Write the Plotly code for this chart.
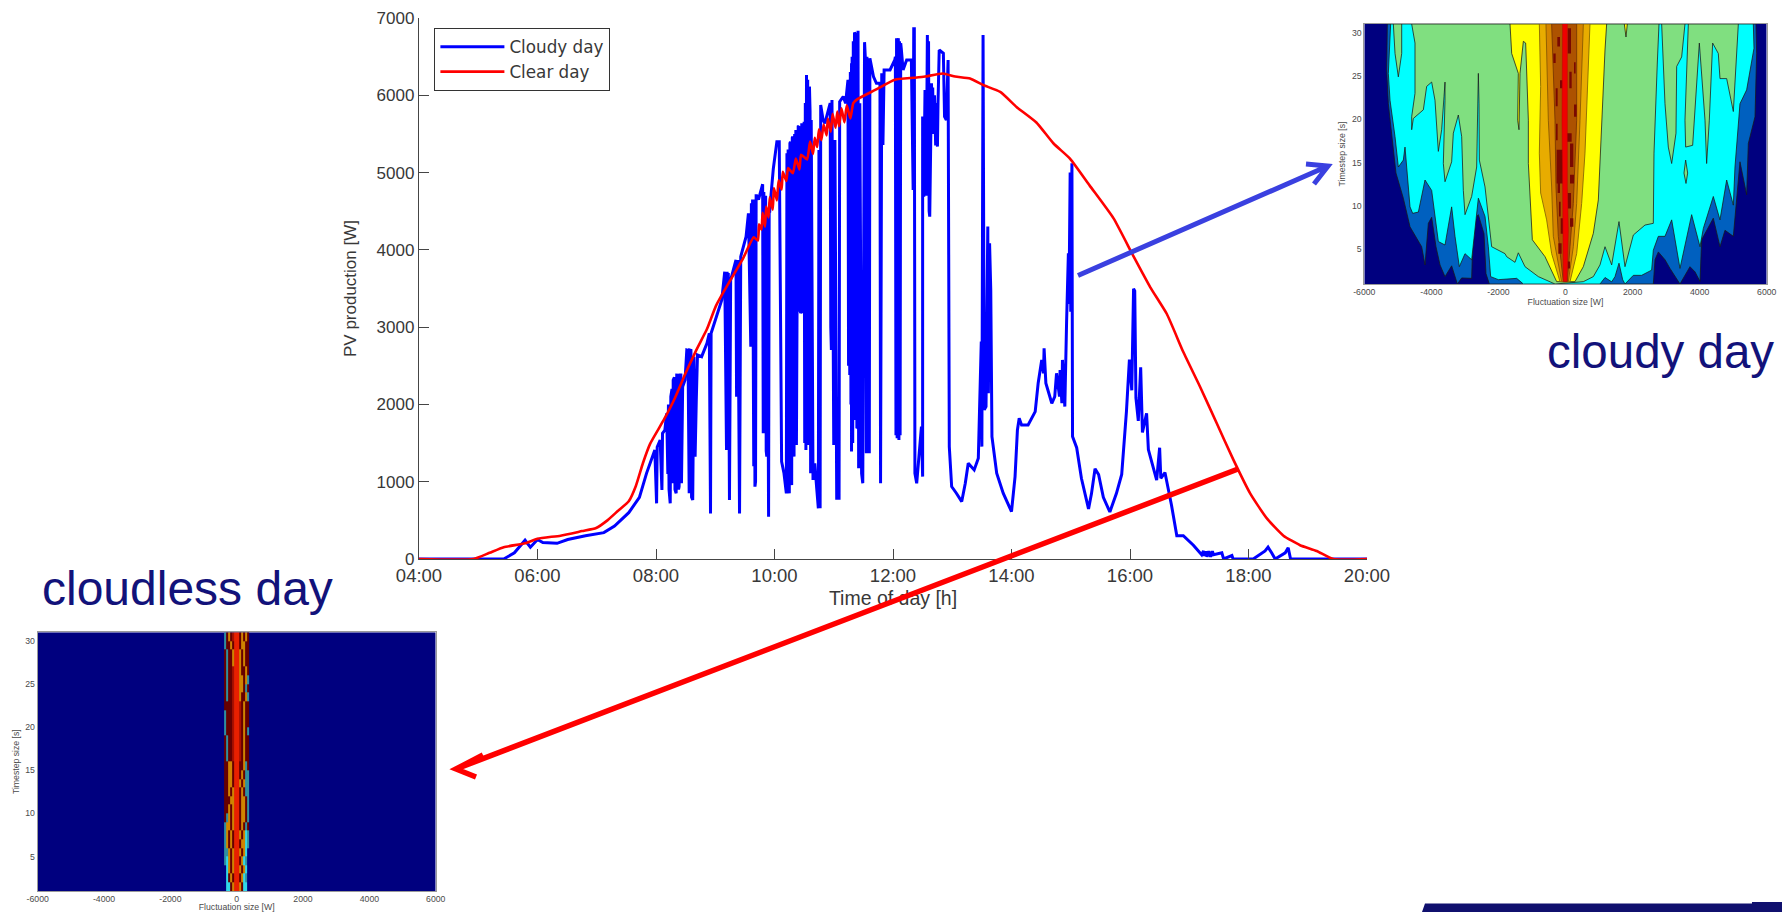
import plotly.graph_objects as go

W, H = 1782, 912
TEXT = "Liberation Sans"
NAVY_TEXT = "#12127a"

# ---- main chart -------------------------------------------------------------
hour_ticks = [4, 6, 8, 10, 12, 14, 16, 18, 20]
hour_labels = ["04:00", "06:00", "08:00", "10:00", "12:00", "14:00", "16:00", "18:00", "20:00"]
power_ticks = [0, 1000, 2000, 3000, 4000, 5000, 6000, 7000]

clear_hours = [4, 4.92, 5.19, 5.43, 5.79, 6.0, 6.39, 6.75, 6.99, 7.18, 7.36, 7.54, 7.66, 7.78, 7.9, 8.14, 8.32, 8.5, 8.68,
               8.86, 9.01, 9.17, 9.47, 9.65, 9.72, 9.74, 9.78, 9.8, 9.84, 9.86, 9.9, 9.92, 9.97, 9.99, 10.04, 10.07, 10.12,
               10.14, 10.2, 10.23, 10.31, 10.36, 10.42, 10.45, 10.55, 10.6, 10.65, 10.68, 10.72, 10.75, 10.79, 10.83, 10.88,
               10.9, 10.95, 10.98, 11.03, 11.06, 11.09, 11.13, 11.18, 11.22, 11.28, 11.33, 11.4, 11.7, 12.03, 12.36, 12.54,
               12.84, 13.05, 13.3, 13.52, 13.81, 14.09, 14.42, 14.71, 14.99, 15.32, 15.72, 16.06, 16.34, 16.62, 16.9, 17.18,
               17.46, 17.74, 18.03, 18.31, 18.59, 18.87, 19.15, 19.43, 20]
clear_watts = [0, 0, 80, 153, 203, 262, 302, 361, 401, 500, 624, 747, 945, 1242, 1490, 1812, 2084, 2406, 2703,
               2975, 3272, 3495, 3891, 4163, 4120, 4330, 4260, 4480, 4300, 4560, 4420, 4680, 4520, 4800, 4640, 4900, 4780,
               5010, 4890, 5060, 4990, 5180, 5040, 5230, 5170, 5400, 5240, 5450, 5330, 5560, 5420, 5620, 5480,
               5700, 5530, 5760, 5580, 5790, 5600, 5830, 5650, 5870, 5700, 5900, 5950, 6069, 6202, 6227, 6242,
               6282, 6242, 6217, 6133, 6044, 5846, 5648, 5376, 5178, 4831, 4410, 3915, 3519, 3173, 2678, 2232,
               1762, 1292, 846, 525, 302, 178, 104, 0, 0]

cloudy_hours = [4, 5.43, 5.61, 5.79, 5.88, 6.0, 6.09, 6.33, 6.51, 6.81, 7.12, 7.3, 7.54, 7.72, 7.84, 7.98, 8.01, 8.02, 8.07,
                8.10, 8.11, 8.15, 8.18, 8.24, 8.25, 8.29, 8.29, 8.34, 8.35, 8.39, 8.42, 8.43, 8.45, 8.49, 8.52, 8.56, 8.57,
                8.62, 8.64, 8.66, 8.68, 8.70, 8.77, 8.86, 8.9, 8.92, 8.93, 9.02, 9.11, 9.16, 9.19, 9.2, 9.24, 9.26, 9.35,
                9.36, 9.38, 9.41, 9.43, 9.52, 9.56, 9.6, 9.61, 9.67, 9.7, 9.73, 9.8, 9.81, 9.84, 9.87, 9.9, 9.92, 9.94, 9.98,
                10.04, 10.08, 10.12, 10.16, 10.2, 10.21, 10.25, 10.26, 10.29, 10.31, 10.33, 10.36, 10.37, 10.38, 10.40, 10.44,
                10.46, 10.47, 10.5, 10.5, 10.53, 10.54, 10.57, 10.59, 10.61, 10.62, 10.65, 10.68, 10.71, 10.74, 10.75, 10.77,
                10.78, 10.82, 10.85, 10.93, 10.96, 10.97, 11.0, 11.02, 11.05, 11.09, 11.09, 11.1, 11.16, 11.2, 11.24, 11.27,
                11.3, 11.3, 11.35, 11.37, 11.38, 11.39, 11.41, 11.42, 11.44, 11.47, 11.49, 11.52, 11.54, 11.55, 11.56, 11.6,
                11.61, 11.67, 11.72, 11.78, 11.79, 11.81, 11.83, 11.85, 11.95, 12.03, 12.06, 12.07, 12.09, 12.1, 12.13, 12.17,
                12.23, 12.31, 12.34, 12.36, 12.37, 12.4, 12.48, 12.5, 12.5, 12.52, 12.54, 12.58, 12.62, 12.65, 12.71, 12.75,
                12.78, 12.85, 12.87, 12.9, 12.93, 12.95, 12.99, 13.07, 13.16, 13.22, 13.27, 13.37, 13.44, 13.49, 13.5, 13.52,
                13.54, 13.57, 13.6, 13.61, 13.63, 13.65, 13.67, 13.75, 13.86, 14.0, 14.06, 14.1, 14.13, 14.17, 14.28, 14.4,
                14.45, 14.51, 14.54, 14.55, 14.58, 14.68, 14.73, 14.76, 14.81, 14.82, 14.85, 14.86, 14.9, 14.93, 14.96, 14.98,
                15.02, 15.03, 15.1, 15.18, 15.3, 15.35, 15.41, 15.47, 15.55, 15.66, 15.77, 15.86, 15.94, 15.99, 16.03, 16.06,
                16.08, 16.1, 16.14, 16.18, 16.21, 16.28, 16.31, 16.45, 16.5, 16.52, 16.59, 16.7, 16.79, 16.9, 17.07, 17.21,
                17.24, 17.41, 17.55, 17.58, 17.72, 17.74, 18.08, 18.28, 18.33, 18.39, 18.45, 18.62, 18.67, 18.71, 20]
cloudy_watts = [0, 0, 80, 243, 153, 252, 213, 203, 252, 302, 341, 426, 599, 797, 1108, 1410, 720, 1450, 1540,
                893, 1626, 1669, 1885, 720, 2100, 979, 2316, 850, 2381, 936, 2400, 979, 2230, 2316, 2704, 850, 2704,
                763, 2618, 1324, 2057, 2640, 2618, 2790, 2920, 590, 2920, 3135, 3351, 3718, 1410, 3718, 763, 3610, 3869,
                2100, 3869, 590, 3912, 4170, 4472, 2747, 4602, 936, 4700, 4650, 4850, 1626, 4700, 1324, 548, 4500, 4700, 5050,
                5400, 5400, 1260, 1109, 850, 5250, 850, 5379, 958, 5465, 1325, 5551, 1476, 3158, 5595, 3179,
                5638, 3179, 5659, 1713, 1411, 6263, 1497, 6112, 1109, 5681, 1023, 1238, 936, 656, 5293, 656,
                5875, 5681, 5638, 5897, 2705, 5940, 1476, 5422, 786, 786, 5206, 5918, 5983, 5897, 6198, 2382,
                6414, 1390, 6811, 1907, 6780, 1691, 6836, 1174, 5897, 1109, 980, 6687, 6371, 1368, 6500, 1368,
                6479, 6242, 6155, 6155, 980, 6285, 5357, 6328, 6328, 6457, 6737, 1562, 6737, 1540, 6673, 6328,
                6457, 6457, 4775, 6860, 1109, 980, 1713, 1066, 5724, 4689, 6069, 6780, 4430, 6155, 5379, 5336,
                6587, 6543, 5724, 5681, 6457, 1454, 937, 851, 743, 980, 1239, 1153, 1303, 2813, 1454, 6781,
                1929, 1972, 4301, 2145, 4085, 3481, 1584, 1109, 851, 613, 1066, 1670, 1821, 1735, 1735, 1907,
                2274, 2576, 2403, 2727, 2274, 2015, 2101, 2403, 2101, 2446, 2015, 2576, 1972, 3072, 3956, 4862,
                5120, 1584, 1440, 1044, 648, 846, 1168, 1094, 797, 609, 846, 1094, 1911, 2579, 2183, 3495,
                3470, 2084, 1787, 2480, 1638, 1886, 1416, 1020, 1440, 1044, 1119, 698, 302, 302, 178, 54,
                104, 54, 79, 0, 45, 0, 0, 104, 153, 80, 0, 80, 144, 0, 0]
# further swings of the cloudy-day trace in the parts where it is a solid block of blue
cloudy_extra_hours = [8.20, 8.21, 8.22, 8.27, 8.28, 8.31, 8.32, 8.37, 8.38, 8.41, 8.41, 8.54, 8.55, 8.59, 8.6, 9.21, 9.22,
                      9.23, 9.62, 9.63, 9.65, 9.66, 9.68, 9.69, 9.82, 9.83, 9.85, 9.86, 9.88, 9.89, 9.91, 10.22, 10.23,
                      10.24, 10.27, 10.28, 10.3, 10.32, 10.34, 10.35, 10.39, 10.41, 10.42, 10.43, 10.45, 10.51, 10.52,
                      10.55, 10.56, 10.58, 10.6, 10.94, 10.95, 11.25, 11.26, 11.28, 11.29, 11.31, 11.32, 11.33, 11.34,
                      11.36, 11.4, 12.04, 12.05, 12.08, 12.11, 12.12, 12.14, 12.33, 12.35, 12.55, 12.56, 12.59, 12.6,
                      12.61, 12.66, 12.67, 12.68, 12.7, 12.72, 12.73, 12.74, 12.76, 14.97, 14.99, 15.0, 15.01, 17.25,
                      17.28, 17.3, 17.33, 17.36, 17.39]
cloudy_extra_watts = [1100, 2000, 900, 2200, 1000, 2350, 900, 2380, 900, 2400, 1000, 2700, 900, 2700, 800, 1500, 3700,
                      900, 3000, 4650, 1200, 4650, 1000, 4700, 4750, 1700, 4700, 1400, 4500, 1000, 4500, 2000, 5300,
                      1000, 5400, 1000, 5450, 1400, 5500, 1500, 3500, 5600, 3200, 5600, 3200, 1500, 5900,
                      1500, 6200, 1500, 5800, 5900, 3000, 2500, 6200, 6300, 2000, 6500, 1500, 6700, 1800,
                      6800, 1700, 6500, 1600, 6700, 6700, 1600, 6600, 4800, 6860, 5800, 4700, 5000, 6700,
                      4500, 5600, 6100, 5500, 6000, 5350, 5900, 5400, 5900, 3300, 5000, 3200, 5100, 40,
                      100, 30, 100, 30, 100]

# ---- cloudy-day contour (fluctuation size W, timestep s) ---------------------
fluct_ticks = [-6000, -4000, -2000, 0, 2000, 4000, 6000]
fluct_labels = ["-6000", "-4000", "-2000", "0", "2000", "4000", "6000"]
step_ticks = [5, 10, 15, 20, 25, 30]

blue_left = [(-5313, 31), (-5333, 25.7), (-5283, 21.8), (-5184, 18.4), (-5055, 13.8), (-4836, 10.9), (-4637, 7.6),
             (-4289, 5.3), (-4190, 3.2), (-4090, 8.0), (-3991, 8.7), (-3862, 5.3), (-3742, 3.2), (-3593, 1.85),
             (-3395, 3.1), (-3225, 1), (-3096, 1.7), (-2798, 1.65), (-2748, 8.4), (-2599, 9.0), (-2430, 6.8),
             (-2371, 2.2), (-2271, 1)]
blue_right = [(2619, 1), (2669, 3.8), (2768, 4.7), (2967, 3.8), (3116, 2.8), (3315, 1.5), (3414, 1), (3712, 3.0),
              (3862, 2.4), (4011, 1.3), (4060, 6.1), (4408, 8.6), (4607, 5.3), (4756, 7.2), (5005, 6.5), (5203, 15.1),
              (5402, 11.3), (5452, 17.2), (5651, 20.3), (5700, 27.6), (5680, 31)]
cyan_left = [(-5214, 31), (-5283, 25.3), (-5233, 22.2), (-5084, 18), (-4985, 14.5), (-4836, 15.3), (-4786, 16.8),
             (-4637, 9.9), (-4557, 9.15), (-4388, 9.3), (-4190, 13), (-3991, 11.8), (-3792, 5.9), (-3593, 5.5),
             (-3395, 9.9), (-3295, 6.5), (-3166, 3), (-2997, 4.5), (-2798, 3.8), (-2599, 10.9), (-2400, 8.8),
             (-2301, 5.3), (-2232, 1.85), (-2003, 1.5), (-1456, 1.65), (-1257, 1)]
cyan_right = [(1029, 1), (1178, 1.75), (1377, 1.25), (1476, 1.85), (1595, 3.4), (1705, 1.5), (1774, 1), (2023, 2.0),
              (2271, 2.0), (2569, 2.6), (2619, 4.9), (2768, 6.5), (2967, 6.5), (3166, 8.4), (3414, 2.8), (3762, 9),
              (4011, 5.3), (4110, 7.4), (4408, 11.1), (4607, 8.4), (4806, 13), (5005, 10.1), (5054, 14.5), (5203, 21.8),
              (5402, 23.4), (5621, 28.2), (5601, 31)]
green_left = [(-4587, 31), (-4488, 28.8), (-4488, 23), (-4587, 20.3), (-4587, 18.8), (-4538, 20.1), (-4239, 21.1),
              (-4140, 23.8), (-3991, 24.3), (-3892, 22.2), (-3792, 16.3), (-3693, 18.8), (-3623, 22.6), (-3593, 24.3),
              (-3593, 22.2), (-3643, 14.9), (-3593, 12.8), (-3395, 15.1), (-3345, 18.4), (-3196, 20.5), (-3096, 18),
              (-3047, 11.8), (-2997, 9), (-2798, 11.1), (-2649, 14.5), (-2609, 21.8), (-2599, 25.3), (-2579, 21.8),
              (-2569, 15.3), (-2400, 12.2), (-2202, 5.3), (-1804, 4.5), (-1754, 4.15), (-1506, 3.5), (-1407, 4.6),
              (-1208, 3), (-810, 1.85), (-313, 1)]
green_right = [(532, 1.27), (830, 1.85), (1029, 3.2), (1178, 5.3), (1377, 3.2), (1595, 8.2), (1774, 3), (2023, 6.65),
               (2370, 7.8), (2619, 8), (2639, 16.1), (2738, 26.5), (2788, 31)]
green_pieces = [
    [(2868, 31), (2967, 21.8), (3066, 16.8), (3166, 14.9), (3295, 18.4), (3315, 26.1), (3464, 27.2), (3563, 31)],
    [(3663, 31), (3563, 19.9), (3583, 16.8), (3792, 17), (3991, 28.8), (4160, 19.9), (4209, 14.9), (4289, 19.9),
     (4388, 28.8), (4557, 27.6), (4607, 24.7), (4806, 24.7), (5005, 20.9), (5154, 31)],
    [(3583, 15.3), (3533, 13.8), (3593, 12.6), (3643, 13.8)],
    [(-5134, 31), (-5084, 27.6), (-4985, 24.9), (-4885, 27.6), (-4885, 31)],
]
yellow_left = [(-1655, 31), (-1605, 27.6), (-1407, 25.3), (-1426, 19.9), (-1387, 18.8), (-1357, 25.3), (-1257, 29),
               (-1188, 28.8), (-1108, 19.9), (-1108, 14.9), (-989, 6.1), (-611, 4.15), (-263, 1.27)]
yellow_right = [(283, 1.27), (532, 3.0), (830, 6.85), (979, 10.7), (1078, 19.9), (1178, 28), (1227, 31)]
yellow_piece = [(1754, 31), (1804, 29.5), (1844, 31)]
gold_band = [(-780, 31), (-741, 23.8), (-780, 16.1), (-741, 11.5), (-562, 8.4), (-413, 4.5), (-164, 1.27),
             (134, 1.27), (333, 4.5), (482, 10.3), (581, 16.1), (681, 25.7), (730, 31)]
orange_band = [(-582, 31), (-512, 19.9), (-413, 12.2), (-363, 6.5), (-115, 1.27),
               (84, 1.27), (233, 5.3), (333, 10.3), (432, 19.9), (532, 31)]
brown_band = [(-413, 31), (-313, 19.9), (-284, 12.2), (-214, 6.5), (-65, 1.27),
              (54, 1.27), (134, 5.3), (233, 10.3), (333, 19.9), (333, 31)]
red_band = [(-85, 31), (-105, 19.9), (-85, 12.2), (-65, 1.3), (45, 1.3), (85, 7.2), (54, 12.2), (54, 31)]
dark_cells = [(-244, -164, 29.5, 28.4), (-363, -293, 27.6, 26.5), (64, 164, 30.5, 27.6), (-164, -65, 24.5, 23.6),
              (114, 184, 25.5, 23.6), (253, 303, 26.6, 25.3), (-293, -234, 23.6, 21.5), (253, 333, 21.7, 20.3),
              (-284, -234, 19.5, 17.6), (35, 184, 18.4, 17.4), (-264, -15, 16.5, 12.6), (134, 233, 17.2, 14.5),
              (134, 253, 13.6, 12.6), (-234, -164, 12.6, 11.5), (64, 164, 11.5, 9.7), (-194, -144, 10.5, 8.8),
              (-144, -65, 8.6, 6.8), (134, 233, 8.6, 7.6), (-214, -115, 5.7, 4.5), (64, 134, 3.6, 2.8)]

# ---- cloudless-day map: one row per second, timestep 1 at the top of this list
cloudless_x = [-348, -285, -222, -158, -95, -32, 32, 95, 158, 222, 285, 348]
cloudless_y = [1.5, 2.5, 3.5, 4.5, 5.5, 6.5, 7.5, 8.5, 9.5, 10.5, 11.5, 12.5, 13.5, 14.5, 15.5, 16.5, 17.5, 18.5, 19.5,
               20.5, 21.5, 22.5, 23.5, 24.5, 25.5, 26.5, 27.5, 28.5, 29.5, 30.5]
cloudless_rows = ["022435534220", "024345543210", "023435534320", "123435543210", "113435534320", "134345543321",
                  "134345534321", "133435543414", "413435543341", "443435543341", "444335543341", "443435543411",
                  "443345534311", "443345543411", "443345544314", "414465564344", "414465564344", "414465564344",
                  "144465564341", "144465564344", "144465564344", "444465564344", "414465534431", "414465533414",
                  "414465533431", "414465534434", "414435534344", "414435534344", "144345543344", "143465543434"]
cloudless_colors = ["#00007f", "#2f8f9f", "#30d8e8", "#cf8400", "#660000", "#e82000", "#a81000"]


def px(x):
    return x / W


def py(y):
    return 1 - y / H


def poly(points, color, xa, ya, line="rgba(25,25,25,0.85)", width=0.9):
    return go.Scatter(x=[p[0] for p in points] + [points[0][0]], y=[p[1] for p in points] + [points[0][1]],
                      mode="lines", fill="toself", fillcolor=color, line=dict(color=line, width=width),
                      xaxis=xa, yaxis=ya, showlegend=False, hoverinfo="skip")


fig = go.Figure()

# cloudy-day panel
frame = [(-6000, 1), (-6000, 31), (6000, 31), (6000, 1)]
fig.add_trace(poly(frame, "#00007f", "x2", "y2", line="#00007f", width=0))
fig.add_trace(poly(blue_left + blue_right, "#0060bf", "x2", "y2"))
fig.add_trace(poly(cyan_left + cyan_right, "#00ffff", "x2", "y2"))
fig.add_trace(poly(green_left + green_right, "#80df80", "x2", "y2"))
for piece in green_pieces:
    fig.add_trace(poly(piece, "#80df80", "x2", "y2"))
fig.add_trace(poly(yellow_left + yellow_right, "#ffff00", "x2", "y2"))
fig.add_trace(poly(yellow_piece, "#ffff00", "x2", "y2"))
fig.add_trace(poly(gold_band, "#e8ac00", "x2", "y2", line="#8a6a00"))
fig.add_trace(poly(orange_band, "#d48400", "x2", "y2", line="#8a5a00"))
fig.add_trace(poly(brown_band, "#ad5200", "x2", "y2", line="#7a3800"))
cells_x, cells_y = [], []
for x0, x1, y0, y1 in dark_cells:
    cells_x += [x0, x1, x1, x0, x0, None]
    cells_y += [y0, y0, y1, y1, y0, None]
fig.add_trace(go.Scatter(x=cells_x, y=cells_y, mode="lines", fill="toself", fillcolor="#7a0800",
                         line=dict(color="#7a0800", width=0), xaxis="x2", yaxis="y2", showlegend=False,
                         hoverinfo="skip"))
fig.add_trace(poly(red_band, "#f00000", "x2", "y2", line="#c00000", width=0.5))

# cloudless-day panel: navy field drawn under the heatmap
steps = []
n = len(cloudless_colors)
for i, c in enumerate(cloudless_colors):
    steps += [[i / n, c], [(i + 1) / n, c]]
fig.add_trace(go.Heatmap(x=cloudless_x, y=cloudless_y, z=[[int(c) for c in r] for r in cloudless_rows],
                         zmin=-0.5, zmax=n - 0.5, colorscale=steps, showscale=False, hoverinfo="skip",
                         xaxis="x3", yaxis="y3"))
fig.add_shape(type="rect", xref="x3", yref="y3", x0=-6000, x1=6000, y0=1, y1=31, layer="below",
              fillcolor="#00007f", line=dict(width=0))

# main chart
merged = sorted(zip(cloudy_hours + cloudy_extra_hours, range(len(cloudy_hours) + len(cloudy_extra_hours)),
                    cloudy_watts + cloudy_extra_watts))
fig.add_trace(go.Scatter(x=[m[0] for m in merged], y=[m[2] for m in merged], mode="lines", name="Cloudy day",
                         line=dict(color="#0000ff", width=3)))
fig.add_trace(go.Scatter(x=clear_hours, y=clear_watts, mode="lines", name="Clear day",
                         line=dict(color="#ff0000", width=2.6, shape="spline", smoothing=0.5)))

AX = "#454545"
LABEL = "#383838"
SMALL = dict(family=TEXT, size=8.7, color="#4a4a4a")


def panel_axes(x0, x1, y0, y1, anchor_x, anchor_y):
    xa = dict(domain=[px(x0), px(x1)], range=[-6000, 6000], tickvals=fluct_ticks, ticktext=fluct_labels, tickfont=SMALL,
              ticks="", showgrid=False, zeroline=False, showline=True, mirror=True, linecolor="#9a9a9a", linewidth=1,
              anchor=anchor_y, automargin=False, title=dict(text="Fluctuation size [W]", font=SMALL, standoff=2))
    ya = dict(domain=[py(y1), py(y0)], range=[1, 31], tickvals=step_ticks, tickfont=SMALL, ticks="",
              showgrid=False, zeroline=False, showline=True, mirror=True, linecolor="#9a9a9a", linewidth=1,
              anchor=anchor_x, automargin=False, title=dict(text="Timestep size [s]", font=SMALL, standoff=4))
    return xa, ya


x2, y2 = panel_axes(1364.3, 1766.7, 24, 284, "x2", "y2")
x3, y3 = panel_axes(37.7, 435.7, 632.3, 891, "x3", "y3")

fig.update_layout(
    width=W, height=H, margin=dict(l=0, r=0, t=0, b=0), paper_bgcolor="white", plot_bgcolor="white",
    font=dict(family=TEXT),
    xaxis=dict(domain=[px(419), px(1367)], range=[4, 20], tickvals=hour_ticks, ticktext=hour_labels, ticks="inside",
               ticklen=10, tickwidth=1.4, tickcolor=AX, showgrid=False, zeroline=False, showline=True, linecolor=AX,
               linewidth=1.4, tickfont=dict(family=TEXT, size=18.5, color=LABEL), anchor="y", automargin=False,
               title=dict(text="Time of day [h]", font=dict(family=TEXT, size=19.5, color=LABEL), standoff=5)),
    yaxis=dict(domain=[py(559), py(18)], range=[0, 7000], tickvals=power_ticks, ticks="inside", ticklen=10,
               tickwidth=1.4, tickcolor=AX, showgrid=False, zeroline=False, showline=True, linecolor=AX, linewidth=1.4,
               tickfont=dict(family=TEXT, size=17, color=LABEL), anchor="x", automargin=False,
               title=dict(text="PV production [W]", font=dict(family=TEXT, size=17, color=LABEL), standoff=15)),
    xaxis2=x2, yaxis2=y2, xaxis3=x3, yaxis3=y3,
    legend=dict(x=px(434), y=py(28), xanchor="left", yanchor="top", bgcolor="white", bordercolor="#333333",
                borderwidth=1.4, font=dict(family="DejaVu Sans", size=16.8, color=LABEL), itemwidth=64,
                entrywidth=108, tracegroupgap=0),
    annotations=[
        dict(text="cloudy day", xref="paper", yref="paper", x=px(1660), y=py(351), xanchor="center", yanchor="middle",
             showarrow=False, font=dict(family=TEXT, size=47.5, color=NAVY_TEXT)),
        dict(text="cloudless day", xref="paper", yref="paper", x=px(187), y=py(588), xanchor="center",
             yanchor="middle", showarrow=False, font=dict(family=TEXT, size=48, color=NAVY_TEXT)),
    ],
)


def stroke(points, color, width):
    d = ""
    for segment in points:
        d += " ".join(("M" if i == 0 else "L") + f"{px(a):.5f},{py(b):.5f}" for i, (a, b) in enumerate(segment)) + " "
    fig.add_shape(type="path", path=d.strip(), xref="paper", yref="paper", layer="above",
                  line=dict(color=color, width=width))


stroke([[(1078, 275.5), (1328, 166)], [(1306, 164), (1328, 166), (1314, 184)]], "#3a40e0", 5)
stroke([[(1238, 469), (456, 769)], [(483, 755), (456, 769), (476, 777)]], "#ff0000", 5.5)
fig.add_shape(type="path", xref="paper", yref="paper", layer="above", fillcolor="#10106e",
              line=dict(width=0, color="#10106e"),
              path=(f"M{px(1422):.5f},{py(912):.5f} L{px(1425):.5f},{py(903.5):.5f} L{px(1752):.5f},{py(903.5):.5f} "
                    f"L{px(1752):.5f},{py(902):.5f} L{px(1782):.5f},{py(902):.5f} L{px(1782):.5f},{py(912):.5f} Z"))

fig.write_html("out.html", config={"displayModeBar": False},
               post_script=("document.body.style.margin='0';document.body.style.overflow='hidden';"
                            "var s=document.querySelector('.main-svg .layer-above');s.parentNode.appendChild(s);"))
